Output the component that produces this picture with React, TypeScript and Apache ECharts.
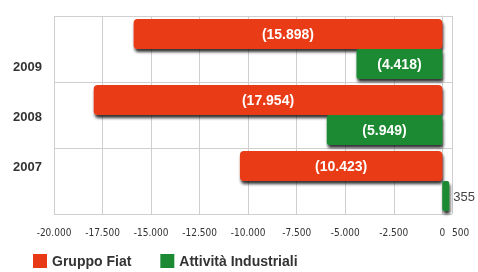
import React, { useEffect, useRef } from "react";
import * as echarts from "echarts";

const years = ["2009", "2008", "2007"];
const gruppoFiat = [-15898, -17954, -10423];
const attivitaIndustriali = [-4418, -5949, 355];
const seriesNames = ["Gruppo Fiat", "Attività Industriali"];

const fmt = (v: number) => {
  const s = Math.abs(v).toString().replace(/\B(?=(\d{3})+(?!\d))/g, ".");
  return v < 0 ? "(" + s + ")" : s;
};
const tickFmt = (v: number) => {
  const s = Math.abs(v).toString().replace(/\B(?=(\d{3})+(?!\d))/g, ".");
  return v < 0 ? "-" + s : s;
};

export default function App() {
  const ref = useRef<HTMLDivElement>(null);
  useEffect(() => {
    if (!ref.current) return;
    const chart = echarts.init(ref.current, undefined, { renderer: "svg" });
    const font = "Liberation Sans, Arial, sans-serif";
    const barLabel = {
      show: true,
      position: "inside",
      formatter: (p: any) => fmt(p.value),
      color: "#fff",
      fontSize: 14,
      fontWeight: "bold",
      fontFamily: font,
    };
    const shadow = {
      shadowColor: "rgba(0,0,0,0.8)",
      shadowBlur: 3,
      shadowOffsetX: 1,
      shadowOffsetY: 3,
    };
    chart.setOption({
      animation: false,
      textStyle: { fontFamily: font },
      legend: {
        left: 33,
        top: 254,
        padding: 0,
        itemWidth: 14,
        itemHeight: 14,
        itemGap: 29,
        icon: "rect",
        textStyle: { fontSize: 14, fontWeight: "bold", color: "#333", fontFamily: font },
        data: seriesNames,
      },
      grid: [
        { left: 54, right: 26, top: 16, height: 198 },
        { left: 54, right: 26, top: 41, height: 150 },
      ],
      xAxis: [
        {
          type: "value",
          gridIndex: 0,
          min: -20000,
          max: 500,
          interval: 2500,
          axisLine: { show: false },
          axisTick: { show: false },
          splitLine: { show: true, lineStyle: { color: "#cfcfcf", width: 1 } },
          axisLabel: {
            formatter: tickFmt,
            fontSize: 10,
            color: "#333",
            margin: 13,
            showMinLabel: true,
            showMaxLabel: true,
            alignMaxLabel: "left",
            hideOverlap: false,
            fontFamily: "Liberation Sans Narrow, DejaVu Sans Condensed, Arial, sans-serif",
          },
        },
        { type: "value", gridIndex: 1, show: false, min: -20000, max: 500 },
      ],
      yAxis: [
        {
          type: "category",
          gridIndex: 0,
          data: years,
          inverse: true,
          axisLine: { show: true, lineStyle: { color: "#cfcfcf" } },
          axisTick: { show: false },
          axisLabel: { show: false },
          splitLine: { show: true, lineStyle: { color: "#cfcfcf", width: 1 } },
        },
        {
          type: "category",
          gridIndex: 1,
          data: years,
          inverse: true,
          axisLine: { show: false },
          axisTick: { show: false },
          splitLine: { show: false },
          axisLabel: { fontSize: 13, fontWeight: "bold", color: "#333", margin: 12, fontFamily: font },
        },
      ],
      series: [
        {
          name: seriesNames[0],
          type: "bar",
          xAxisIndex: 0,
          yAxisIndex: 0,
          data: gruppoFiat,
          barWidth: 30,
          barGap: "0%",
          itemStyle: { color: "#e83a17", borderRadius: 4, ...shadow },
          label: barLabel,
        },
        {
          name: seriesNames[1],
          type: "bar",
          xAxisIndex: 0,
          yAxisIndex: 0,
          data: attivitaIndustriali.map((v) =>
            v >= 0
              ? {
                  value: v,
                  label: { position: "right", color: "#444", fontWeight: "normal", fontSize: 13, distance: 4 },
                }
              : v
          ),
          barWidth: 30,
          barGap: "0%",
          itemStyle: { color: "#1b8a33", borderRadius: 2, ...shadow },
          label: barLabel,
        },
      ],
    });
    return () => chart.dispose();
  }, []);
  return <div ref={ref} style={{ width: 478, height: 272, position: "fixed", left: 0, top: 0 }} />;
}
